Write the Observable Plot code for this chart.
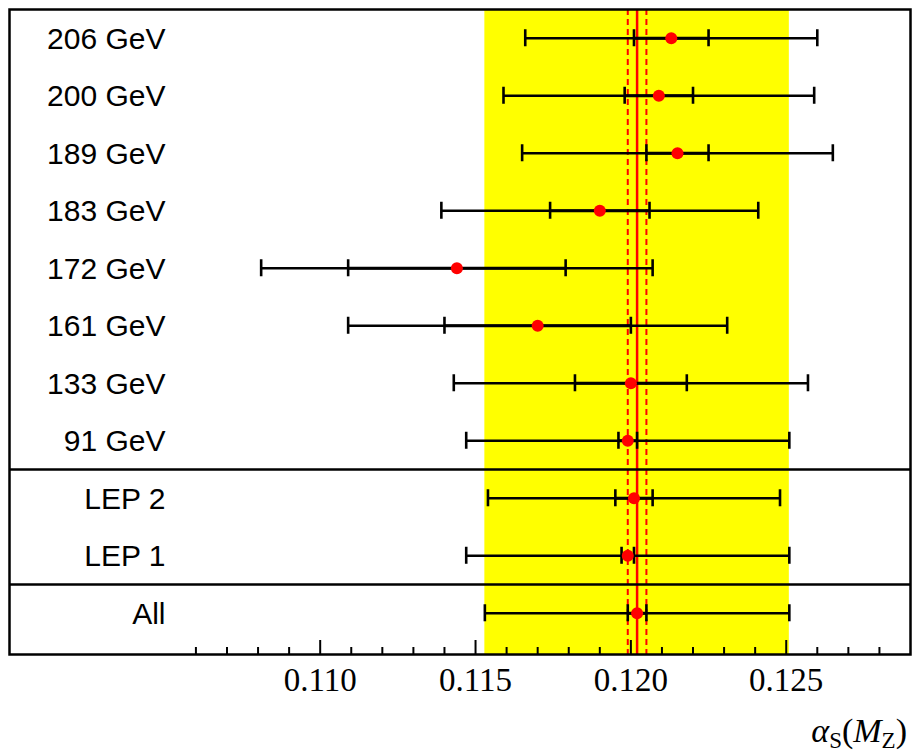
<!DOCTYPE html>
<html>
<head>
<meta charset="utf-8">
<script src="https://cdn.jsdelivr.net/npm/d3@7"></script>
<script src="https://cdn.jsdelivr.net/npm/@observablehq/plot@0.6"></script>
<style>
  html, body { margin: 0; padding: 0; background: #fff; }
</style>
</head>
<body>
<div id="chart"></div>
<script>
// ---- data ----
const labels  = ["206 GeV", "200 GeV", "189 GeV", "183 GeV", "172 GeV", "161 GeV", "133 GeV", "91 GeV", "LEP 2", "LEP 1", "All"];
const groups  = ["energy", "energy", "energy", "energy", "energy", "energy", "energy", "energy", "LEP", "LEP", "All"];
const centers = [0.1213, 0.1209, 0.1215, 0.1190, 0.1144, 0.1170, 0.1200, 0.1199, 0.1201, 0.1199, 0.1202];
const statErr = [0.0012, 0.0011, 0.0010, 0.0016, 0.0035, 0.0030, 0.0018, 0.0003, 0.0006, 0.0002, 0.0003];
const totErr  = [0.0047, 0.0050, 0.0050, 0.0051, 0.0063, 0.0061, 0.0057, 0.0052, 0.0047, 0.0052, 0.0049];
const majorTicks = [0.110, 0.115, 0.120, 0.125];
const minorTicks = [0.106, 0.107, 0.108, 0.109, 0.111, 0.112, 0.113, 0.114, 0.116, 0.117, 0.118, 0.119,
                    0.121, 0.122, 0.123, 0.124, 0.126, 0.127, 0.128];

const rows = labels.map((label, i) => ({i, label, group: groups[i], c: centers[i], s: statErr[i], t: totErr[i]}));
const seps = rows.slice(1).filter((d, k) => d.group !== rows[k].group).map(d => d.i - 0.5);
const all = rows.find(d => d.label === "All");
const caps = rows.flatMap(d => [
  {i: d.i, x: d.c - d.t}, {i: d.i, x: d.c + d.t},
  {i: d.i, x: d.c - d.s}, {i: d.i, x: d.c + d.s}
]);

const capHalf = 0.148;
const frameH = 645;

const svg = Plot.plot({
  width: 912,
  height: 753,
  marginTop: 9,
  marginLeft: 9,
  marginRight: 2,
  marginBottom: 99,
  style: {fontFamily: "'Liberation Serif', 'DejaVu Serif', serif", fontSize: "33px", color: "black", background: "white"},
  x: {domain: [0.100, 0.129], label: null},
  y: {domain: [10.717, -0.5], axis: null},
  marks: [
    Plot.rect([all], {x1: d => d.c - d.t, x2: d => d.c + d.t, fill: "#ffff00"}),
    Plot.ruleX([all], {x: d => d.c - d.s, stroke: "#ff0000", strokeWidth: 2, strokeDasharray: "6,4"}),
    Plot.ruleX([all], {x: d => d.c + d.s, stroke: "#ff0000", strokeWidth: 2, strokeDasharray: "6,4"}),
    Plot.ruleX([all], {x: "c", stroke: "#ff0000", strokeWidth: 2.5}),
    Plot.ruleY(seps, {stroke: "black", strokeWidth: 2.5}),
    Plot.ruleX(minorTicks, {insetTop: frameH - 7, stroke: "black", strokeWidth: 2}),
    Plot.ruleX(majorTicks, {insetTop: frameH - 14, stroke: "black", strokeWidth: 2}),
    Plot.axisX({ticks: majorTicks, tickSize: 0, tickPadding: 13, tickFormat: d3.format(".3f"), label: null}),
    Plot.ruleY(rows, {y: "i", x1: d => d.c - d.t, x2: d => d.c + d.t, stroke: "black", strokeWidth: 2.3}),
    Plot.ruleY(rows, {y: "i", x1: d => d.c - d.s, x2: d => d.c + d.s, stroke: "black", strokeWidth: 3}),
    Plot.ruleX(caps, {x: "x", y1: d => d.i - capHalf, y2: d => d.i + capHalf, stroke: "black", strokeWidth: 2.6}),
    Plot.dot(rows, {x: "c", y: "i", r: 6, fill: "#ff0000", stroke: null}),
    Plot.text(rows, {y: "i", text: "label", frameAnchor: "left", dx: 156, dy: 1, textAnchor: "end",
                     fontSize: 30, fontFamily: "'Liberation Sans', Arial, sans-serif", fill: "black"}),
    Plot.frame({stroke: "black", strokeWidth: 2.5})
  ]
});

// axis title  alpha_S(M_Z)
const t = d3.select(svg).append("text")
  .attr("x", 907).attr("y", 742)
  .attr("text-anchor", "end")
  .attr("font-family", "'Liberation Serif', 'DejaVu Serif', serif")
  .attr("font-size", 34)
  .attr("fill", "black");
t.append("tspan").attr("font-style", "italic").text("α");
t.append("tspan").attr("font-size", 23).attr("dy", 6).text("S");
t.append("tspan").attr("dy", -6).text("(");
t.append("tspan").attr("font-style", "italic").text("M");
t.append("tspan").attr("font-size", 23).attr("dy", 6).text("Z");
t.append("tspan").attr("dy", -6).text(")");

document.getElementById("chart").appendChild(svg);
</script>
</body>
</html>
